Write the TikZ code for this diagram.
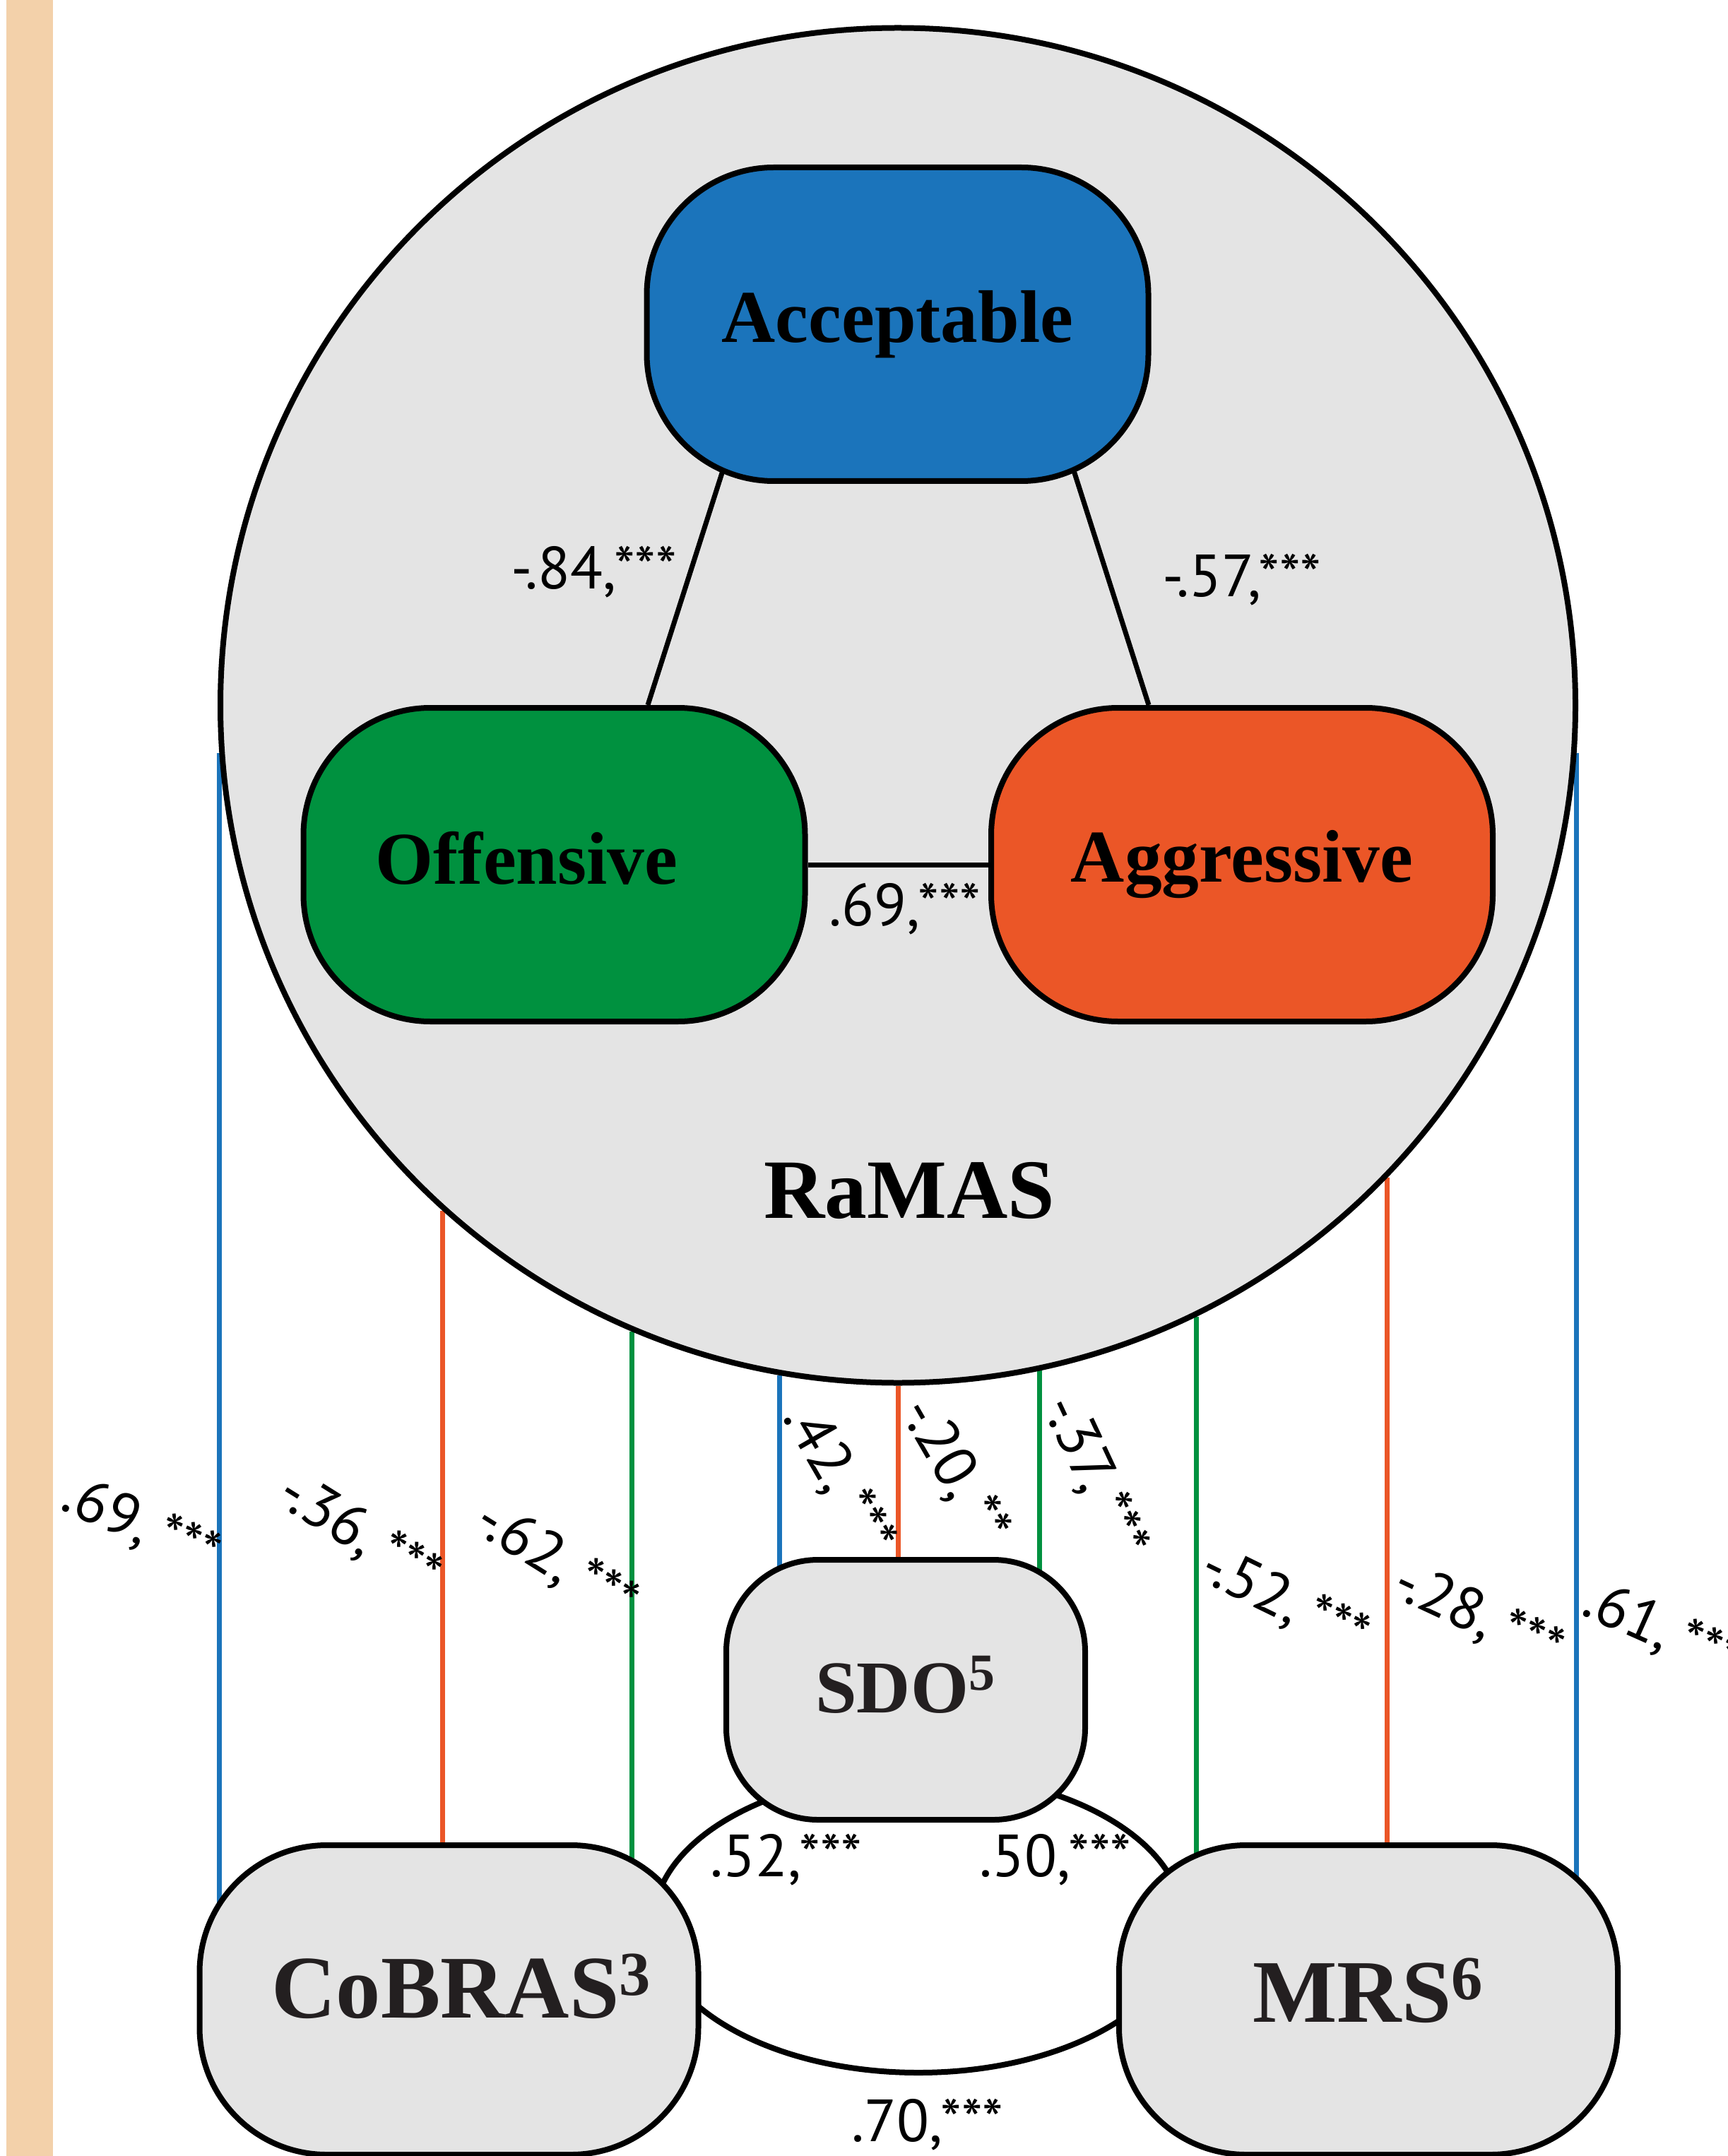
\documentclass[tikz,border=0pt]{standalone}
\usepackage{fontspec}
\setmainfont{PT Sans}
\newfontfamily\boxfont{Liberation Serif}
\usetikzlibrary{backgrounds}
\definecolor{acceptblue}{HTML}{1B74BB}
\definecolor{offensegreen}{HTML}{00913F}
\definecolor{aggressorange}{HTML}{EB5627}
\definecolor{ramasgray}{HTML}{E4E4E4}
\definecolor{stripbeige}{HTML}{F3D1AA}
\definecolor{textblack}{HTML}{231F20}

\begin{document}
\begin{tikzpicture}[every node/.style={align=center},
  subscale/.style={draw, rectangle, line width=0.8mm, rounded corners=1.8cm, minimum width=7.1cm, minimum height=4.44cm, font=\boxfont\bfseries\fontsize{30}{36}\selectfont},
  measure/.style={draw, rectangle, line width=0.8mm, rounded corners=1.8cm, fill=ramasgray, text=textblack, minimum width=7.06cm, minimum height=4.38cm, font=\boxfont\bfseries\fontsize{36}{42}\selectfont},
  coef/.style={font=\fontsize{24}{28}\selectfont, inner sep=1pt},
  link/.style={line width=0.7mm},
  blueline/.style={acceptblue, line width=0.7mm},
  greenline/.style={offensegreen, line width=0.7mm},
  orangeline/.style={aggressorange, line width=0.7mm}]
\useasboundingbox (0,0) rectangle (24.45,-30.52);
\fill[stripbeige] (0.09,0) rectangle (0.75,-30.52);

% Draw the RaMAS circle and its three subscales
\node[circle, draw, line width=0.8mm, fill=ramasgray, minimum size=19.18cm] (ramas) at (12.71,-9.985) {};
\node[subscale, fill=acceptblue] (accept) at (12.705,-4.59) {Acceptable};
\node[subscale, fill=offensegreen] (offend) at (7.845,-12.24) {\hspace*{-0.78cm}\raisebox{0.2cm}{Offensive}};
\node[subscale, fill=aggressorange] (aggress) at (17.58,-12.24) {Aggressive};
\node[font=\boxfont\bfseries\fontsize{34}{40}\selectfont] (ramaslabel) at (12.87,-16.86) {RaMAS};

% Draw the other scales
\node[measure, minimum width=5.08cm, minimum height=3.68cm, rounded corners=1.3cm, font=\boxfont\bfseries\fontsize{30}{36}\selectfont] (sdo) at (12.82,-23.92) {\raisebox{0.16cm}{SDO\textsuperscript{5}}};
\node[measure] (cobras) at (6.355,-28.31) {\raisebox{0.39cm}{CoBRAS\textsuperscript{3}}\hspace*{-0.36cm}};
\node[measure] (mrs) at (19.37,-28.31) {\raisebox{0.27cm}{MRS\textsuperscript{6}}};
\coordinate (corr) at (13.0,-27.22);

% Draw links inside the circle
\draw[link] ([xshift=-2.48cm, yshift=0.17cm]accept.south) -- ([xshift=1.325cm]offend.north);
\draw[link] ([xshift=2.5cm, yshift=0.17cm]accept.south) -- ([xshift=-1.32cm]aggress.north);
\draw[link] (offend) -- (aggress);

% Draw links to the other scales
\begin{scope}[on background layer]
\draw[blueline] (ramas.184) -- (ramas.184 |- cobras.center);
\draw[orangeline] (ramas.228.7) -- (ramas.228.7 |- cobras.center);
\draw[greenline] (ramas.247.3) -- (ramas.247.3 |- cobras.center);
\draw[blueline] (ramas.260.5) -- (ramas.260.5 |- sdo.center);
\draw[orangeline] (ramas.270) -- (ramas.270 |- sdo.center);
\draw[greenline] (ramas.282.5) -- (ramas.282.5 |- sdo.center);
\draw[greenline] (ramas.296) -- (ramas.296 |- mrs.center);
\draw[orangeline] (ramas.316.2) -- (ramas.316.2 |- mrs.center);
\draw[blueline] (ramas.356) -- (ramas.356 |- mrs.center);
\draw[line width=0.8mm] (corr) ellipse [x radius=3.75cm, y radius=2.12cm];
\end{scope}

% Coefficients
\node[coef] (c84) at (8.41,-8.1) {-.84,***};
\node[coef] (c57) at (17.58,-8.21) {-.57,***};
\node[coef] (c69) at (12.81,-12.87) {.69,***};
\node[coef, rotate=-24] (ac) at (1.99,-21.61) {.69,\,***};
\node[coef, rotate=-32] (ag) at (5.08,-21.73) {-.36,\,***};
\node[coef, rotate=-32] (ao) at (7.87,-22.12) {-.62,\,***};
\node[coef, rotate=-60] (sa) at (11.86,-20.95) {.42,\,***};
\node[coef, rotate=-60] (sg) at (13.5,-20.83) {-.20,\,**};
\node[coef, rotate=-65] (so) at (15.48,-20.91) {-.37,\,***};
\node[coef, rotate=-26] (mo) at (18.18,-22.69) {-.52,\,***};
\node[coef, rotate=-25] (mg) at (20.92,-22.9) {-.28,\,***};
\node[coef, rotate=-24] (ma) at (23.52,-23.1) {.61,\,***};
\node[coef] (cs) at (11.13,-26.33) {.52,***};
\node[coef] (sm) at (14.94,-26.33) {.50,***};
\node[coef] (cm) at (13.13,-30.08) {.70,***};
\end{tikzpicture}
\end{document}
